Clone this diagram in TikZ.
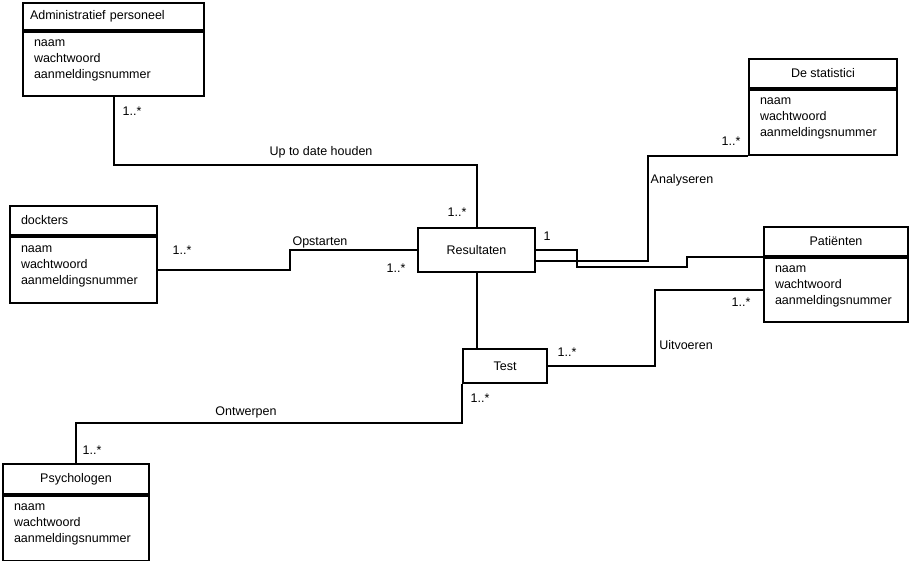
\documentclass[tikz,border=0pt]{standalone}
\usepackage{fontspec}
\setmainfont{Liberation Sans}
\usetikzlibrary{positioning}

\begin{document}
\begin{tikzpicture}[x=1pt, y=-1pt,
        every node/.style={font=\fontsize{12.5}{16}\selectfont},
        classhead/.style={draw, line width=2pt, anchor=north west, inner sep=0pt, minimum height=29pt},
        classbody/.style={draw, line width=2pt, align=left, inner xsep=11pt, inner ysep=0pt, text depth=42pt, minimum height=65pt},
        classbox/.style={draw, line width=2pt, inner sep=0pt},
        assoc/.style={line width=2pt},
        mult/.style={inner sep=0pt}
        ]
        \useasboundingbox (0,0) rectangle (912,561);

        % ---------------- Classes ----------------
        \node[classhead, align=left, text width=167pt, inner xsep=7pt, minimum height=27pt] (admhead) at (22,2) {Administratief personeel};
        \node[classbody, text width=159pt, minimum height=64pt, below=0pt of admhead] (admbody) {naam\\wachtwoord\\aanmeldingsnummer};

        \node[classhead, minimum width=148pt] (stathead) at (748,58) {De statistici};
        \node[classbody, text width=126pt, below=0pt of stathead] (statbody) {naam\\wachtwoord\\aanmeldingsnummer};

        \node[classhead, align=left, text width=125pt, inner xsep=11pt] (dockhead) at (9,205) {dockters};
        \node[classbody, text width=125pt, minimum height=66pt, below=0pt of dockhead] (dockbody) {naam\\wachtwoord\\aanmeldingsnummer};

        \node[classhead, minimum width=144pt] (pathead) at (763,226) {Patiënten};
        \node[classbody, text width=122pt, minimum height=64pt, below=0pt of pathead] (patbody) {naam\\wachtwoord\\aanmeldingsnummer};

        \node[classhead, minimum width=146pt, minimum height=30pt] (psyhead) at (2,463) {Psychologen};
        \node[classbody, text width=124pt, below=0pt of psyhead] (psybody) {naam\\wachtwoord\\aanmeldingsnummer};

        \node[classbox, minimum width=117pt, minimum height=44pt] (resultaten) at (476.5,250) {Resultaten};
        \node[classbox, minimum width=84pt, minimum height=34pt] (test) at (505,366) {Test};

        % ---------------- Associations ----------------
        \draw[assoc] (admbody.south) -- ++(0,68) -| (resultaten.north);
        \draw[assoc] (dockbody.east) -- ++(132,0) |- (resultaten.west);
        \draw[assoc] (resultaten.east) -- ++(41,0) -- ++(0,17) -- ++(110,0) |- (pathead.south west);
        \draw[assoc] ([yshift=-11pt]resultaten.east) -- ++(112,0) |- (statbody.south west);
        \draw[assoc] (resultaten.south) -- (resultaten.south |- test.north);
        \draw[assoc] (test.east) -- ++(107,0) |- (patbody.west);
        \draw[assoc] (test.south west) -- ++(0,39) -| (psyhead.north);

        % ---------------- Labels ----------------
        \node[mult] (m1) at (132,111) {1..*};
        \node[mult] (uptodate) at (321,152) {Up to date houden};
        \node[mult] (m2) at (457,212) {1..*};
        \node[mult] (m3) at (182,250) {1..*};
        \node[mult] (opstarten) at (320,242) {Opstarten};
        \node[mult] (m4) at (396,268) {1..*};
        \node[mult] (m5) at (547,236) {1};
        \node[mult] (m6) at (731,141) {1..*};
        \node[mult] (analyseren) at (682,180) {Analyseren};
        \node[mult] (m7) at (741,302) {1..*};
        \node[mult] (uitvoeren) at (686,345) {Uitvoeren};
        \node[mult] (m8) at (567,352) {1..*};
        \node[mult] (m9) at (480,398) {1..*};
        \node[mult] (ontwerpen) at (246,412) {Ontwerpen};
        \node[mult] (m10) at (92,450) {1..*};
\end{tikzpicture}
\end{document}
